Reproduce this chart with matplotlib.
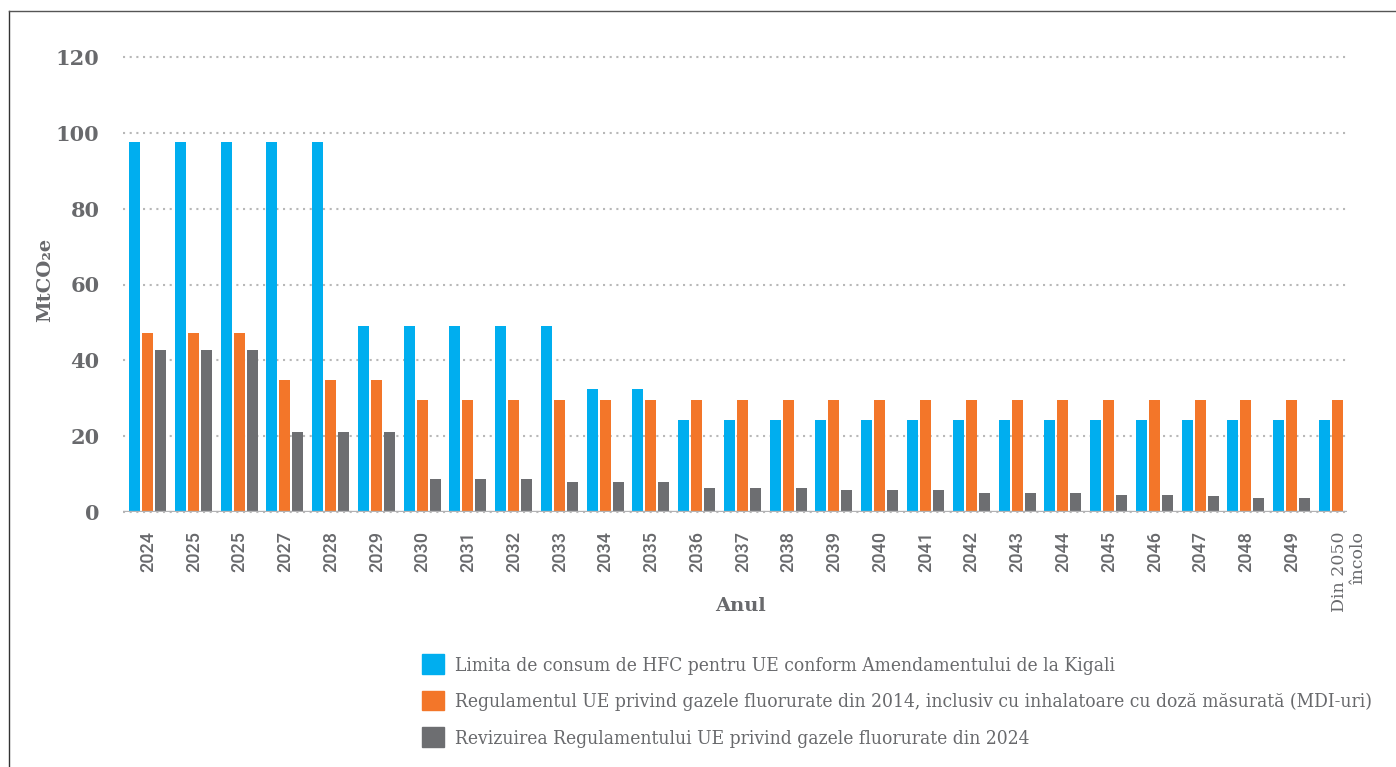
import matplotlib
matplotlib.use("Agg")
import matplotlib.pyplot as plt
import matplotlib.patches as mpatches
import matplotlib.transforms as mtransforms
import numpy as np

# ── data ──────────────────────────────────────────────────────────────────────
years = ["2024", "2025", "2025", "2027", "2028", "2029", "2030", "2031", "2032",
         "2033", "2034", "2035", "2036", "2037", "2038", "2039", "2040", "2041",
         "2042", "2043", "2044", "2045", "2046", "2047", "2048", "2049",
         "Din 2050\nîncolo"]

kigali = [97.5, 97.5, 97.5, 97.5, 97.5,
          49.0, 49.0, 49.0, 49.0, 49.0,
          32.4, 32.4,
          24.2, 24.2, 24.2, 24.2, 24.2, 24.2, 24.2, 24.2, 24.2, 24.2,
          24.2, 24.2, 24.2, 24.2, 24.2]
reg_2014 = [47.2, 47.2, 47.2, 34.8, 34.8, 34.8,
            29.5, 29.5, 29.5, 29.5, 29.5, 29.5, 29.5, 29.5, 29.5, 29.5, 29.5,
            29.5, 29.5, 29.5, 29.5, 29.5, 29.5, 29.5, 29.5, 29.5, 29.5]
rev_2024 = [42.7, 42.7, 42.7, 21.2, 21.2, 21.2,
            8.8, 8.8, 8.8, 7.9, 7.9, 7.9, 6.4, 6.4, 6.4, 5.8, 5.8, 5.8,
            5.0, 5.0, 5.0, 4.5, 4.5, 4.2, 3.7, 3.7, np.nan]

series_labels = [
    "Limita de consum de HFC pentru UE conform Amendamentului de la Kigali",
    "Regulamentul UE privind gazele fluorurate din 2014, inclusiv cu inhalatoare cu doză măsurată (MDI-uri)",
    "Revizuirea Regulamentului UE privind gazele fluorurate din 2024",
]
COLORS = ["#00aeef", "#f37629", "#6d6e71"]
TXT = "#68696c"
SLAB = ["DejaVu Serif", "DejaVu Sans"]

# ── canvas ────────────────────────────────────────────────────────────────────
W, H = 1396, 767
fig = plt.figure(figsize=(W / 100, H / 100), dpi=100)
fig.patch.set_facecolor("white")

# thin frame on top / left
fig.add_artist(plt.Line2D([9 / W, 9 / W], [0, 1 - 11 / H], color="#333333",
                          lw=1, transform=fig.transFigure))
fig.add_artist(plt.Line2D([9 / W, 1], [1 - 11 / H, 1 - 11 / H], color="#555555",
                          lw=1, transform=fig.transFigure))

ax = fig.add_axes([123 / W, (H - 512) / H, (1347 - 123) / W, (512 - 57) / H])

x = np.arange(len(years))
bw, off = 0.24, 0.284
for i, (vals, c) in enumerate(zip([kigali, reg_2014, rev_2024], COLORS)):
    ax.bar(x + (i - 1) * off - 0.01, vals, width=bw, color=c, zorder=3)

ax.set_xlim(-0.546, 26.2)
ax.set_ylim(0, 120)
ax.set_yticks(np.arange(0, 121, 20))
ax.yaxis.grid(True, color="#b8b8b8", lw=1.5, ls=(0, (1, 2.2)), zorder=0)
for gl in ax.get_ygridlines():
    gl.set_clip_on(False)
ax.axhline(0, color="#b3b3b5", lw=2.4, zorder=4)
for sp in ax.spines.values():
    sp.set_visible(False)
ax.tick_params(length=0)
ax.tick_params(axis="y", pad=17)
ax.tick_params(axis="x", pad=14)
for lab in ax.get_yticklabels():
    lab.set_fontfamily(SLAB)
    lab.set_fontweight("bold")
    lab.set_fontsize(15)
    lab.set_color(TXT)

ax.set_xticks(x)
ax.set_xticklabels(years, rotation=90, fontsize=13, color=TXT,
                   fontfamily=["Roboto", "DejaVu Sans"], fontweight="medium",
                   va="top")
last = ax.get_xticklabels()[-1]
last.set_fontfamily(SLAB)
last.set_fontweight("normal")
last.set_fontsize(12.5)
last.set_multialignment("right")
last.set_transform(last.get_transform() +
                   mtransforms.ScaledTranslation(8 / 72, 0, fig.dpi_scale_trans))

ax.set_ylabel("MtCO₂e", fontsize=14, fontweight="bold", color=TXT,
              fontfamily=SLAB)
ax.yaxis.set_label_coords(-0.056, 0.51)
fig.text(740 / W, 1 - 606 / H, "Anul", ha="center", va="center",
         fontsize=14, fontweight="bold", color=TXT, fontfamily=SLAB)

# ── legend ────────────────────────────────────────────────────────────────────
handles = [mpatches.Patch(color=c, label=l) for c, l in zip(COLORS, series_labels)]
leg = fig.legend(handles=handles, loc="upper left",
                 bbox_to_anchor=(405 / W, 1 - 637 / H), frameon=False,
                 handlelength=1.15, handleheight=1.2, handletextpad=0.55,
                 labelspacing=0.85, prop={"family": SLAB, "size": 13.8,
                                          "stretch": "condensed"})
for t in leg.get_texts():
    t.set_color(TXT)

plt.savefig("out.png", dpi=100, facecolor=fig.get_facecolor())
